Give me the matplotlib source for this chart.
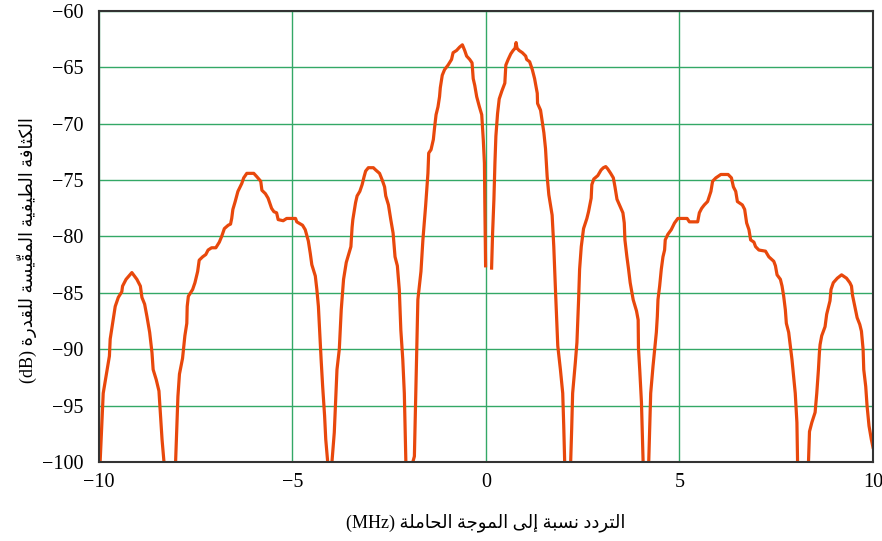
import numpy as np
import matplotlib
matplotlib.use('Agg')
import matplotlib.pyplot as plt

# --- data (MHz, dB) ---
lobe1_f = [-10.0, -9.97, -9.89, -9.73, -9.71, -9.58, -9.50, -9.41, -9.39, -9.30, -9.15, -9.02,
           -8.93, -8.89, -8.82, -8.76, -8.69, -8.63, -8.60, -8.52, -8.45, -8.41, -8.37, -8.32]
lobe1_db = [-102, -100, -93.9, -90.6, -89.1, -86.2, -85.4, -84.9, -84.4, -83.8, -83.2, -83.8,
            -84.4, -85.4, -86.0, -87.1, -88.5, -90.3, -91.8, -92.7, -93.7, -95.9, -98.0, -100]

lobe2_f = [-8.02, -7.99, -7.96, -7.92, -7.84, -7.78, -7.73, -7.72, -7.69, -7.58, -7.52, -7.45,
           -7.41, -7.32, -7.24, -7.18, -7.09, -6.98, -6.89, -6.83, -6.76, -6.66, -6.60, -6.57,
           -6.54, -6.48, -6.41, -6.31, -6.26, -6.18, -6.00, -5.92, -5.82, -5.79, -5.70, -5.63,
           -5.54, -5.48, -5.41, -5.37, -5.24, -5.15, -4.92, -4.89, -4.74, -4.67, -4.59, -4.54,
           -4.50, -4.41, -4.37, -4.33, -4.30, -4.26, -4.22, -4.17, -4.14, -4.09]
lobe2_db = [-100, -97.1, -94.2, -92.2, -90.8, -88.8, -87.7, -86.2, -85.3, -84.7, -84.1, -83.1,
            -82.1, -81.8, -81.6, -81.2, -81.0, -81.0, -80.5, -80.0, -79.3, -79.0, -78.9, -78.4,
            -77.6, -76.9, -76.0, -75.3, -74.8, -74.4, -74.4, -74.7, -75.1, -75.9, -76.2, -76.6,
            -77.5, -77.8, -77.9, -78.5, -78.6, -78.4, -78.4, -78.7, -79.0, -79.4, -80.4, -81.5,
            -82.5, -83.5, -84.7, -86.2, -88.3, -90.9, -93.3, -95.9, -98.0, -100]

lobe3_f = [-3.98, -3.92, -3.85, -3.79, -3.74, -3.68, -3.61, -3.55, -3.49, -3.46, -3.44, -3.37,
           -3.33, -3.26, -3.20, -3.15, -3.11, -3.04, -2.91, -2.85, -2.75, -2.68, -2.62, -2.59,
           -2.52, -2.46, -2.40, -2.35, -2.29, -2.24, -2.20, -2.15, -2.11, -2.09, -2.07]
lobe3_db = [-100, -97.4, -91.8, -90.0, -86.5, -83.8, -82.3, -81.6, -80.9, -79.2, -78.5, -77.0,
            -76.4, -76.0, -75.4, -74.7, -74.2, -73.9, -73.9, -74.1, -74.4, -75.0, -75.6, -76.4,
            -77.2, -78.5, -79.7, -81.8, -82.6, -84.7, -88.3, -90.9, -93.9, -96.8, -100]

main_l_f = [-1.89, -1.85, -1.82, -1.76, -1.68, -1.63, -1.56, -1.50, -1.48, -1.42, -1.36, -1.33,
            -1.29, -1.24, -1.20, -1.18, -1.13, -1.07, -0.98, -0.89, -0.85, -0.76, -0.68, -0.61,
            -0.55, -0.50, -0.42, -0.36, -0.33, -0.29, -0.24, -0.17, -0.11, -0.07, -0.04, -0.03, -0.01]
main_l_db = [-100, -99.5, -94.9, -85.6, -83.1, -80.3, -77.3, -74.4, -72.6, -72.3, -71.4, -70.4,
             -69.2, -68.5, -67.6, -66.8, -65.7, -65.2, -64.8, -64.3, -63.7, -63.5, -63.2, -63.0,
             -63.5, -64.0, -64.3, -64.6, -66.0, -66.6, -67.6, -68.5, -69.2, -71.4, -73.5, -77.0, -82.6]

main_r_f = [0.145, 0.171, 0.205, 0.231, 0.256, 0.299, 0.342, 0.410, 0.487, 0.513, 0.573, 0.641,
            0.701, 0.752, 0.778, 0.803, 0.855, 0.940, 1.026, 1.051, 1.128, 1.197, 1.256, 1.325,
            1.333, 1.410, 1.453, 1.496, 1.538, 1.581, 1.624, 1.709, 1.752, 1.795, 1.855, 1.923,
            1.983, 2.009, 2.034]
main_r_db = [-82.8, -79.7, -76.7, -73.5, -71.1, -69.1, -67.8, -67.1, -66.4, -64.8, -64.3, -63.8,
             -63.5, -63.3, -62.8, -63.3, -63.5, -63.7, -64.0, -64.3, -64.5, -65.2, -66.0, -67.3,
             -68.2, -68.8, -69.8, -70.8, -72.2, -74.7, -76.3, -78.1, -80.9, -84.7, -89.7, -91.8,
             -93.9, -96.8, -100]

lobe6_f = [2.188, 2.214, 2.239, 2.308, 2.350, 2.393, 2.419, 2.462, 2.521, 2.607, 2.650, 2.718,
           2.735, 2.786, 2.889, 2.974, 3.034, 3.094, 3.145, 3.222, 3.291, 3.333, 3.385, 3.462,
           3.538, 3.573, 3.590, 3.641, 3.684, 3.726, 3.803, 3.889, 3.932, 3.940, 3.974, 4.017, 4.060]
lobe6_db = [-100, -97.1, -93.9, -91.2, -89.4, -85.6, -82.9, -80.9, -79.3, -78.4, -77.8, -76.6,
            -75.4, -74.9, -74.6, -74.1, -73.9, -73.8, -74.0, -74.4, -74.8, -75.6, -76.7, -77.3,
            -77.9, -78.8, -80.3, -81.8, -82.9, -84.1, -85.6, -86.6, -87.4, -89.9, -91.9, -94.7, -100]

lobe7_f = [4.205, 4.256, 4.316, 4.359, 4.402, 4.427, 4.444, 4.487, 4.530, 4.573, 4.615, 4.632,
           4.701, 4.786, 4.872, 4.957, 5.197, 5.256, 5.470, 5.513, 5.573, 5.641, 5.726, 5.812,
           5.855, 5.940, 6.068, 6.256, 6.342, 6.393, 6.453, 6.496, 6.624, 6.684, 6.735, 6.795,
           6.838, 6.923, 6.966, 7.051, 7.222, 7.308, 7.436, 7.479, 7.521, 7.607, 7.650, 7.692,
           7.735, 7.761, 7.821, 7.863, 7.906, 7.949, 7.991, 8.034, 8.051]
lobe7_db = [-100, -93.9, -91.5, -90.0, -88.5, -87.1, -85.6, -84.4, -82.9, -81.8, -81.2, -80.3,
            -79.8, -79.4, -78.8, -78.4, -78.4, -78.7, -78.7, -77.9, -77.5, -77.2, -76.9, -76.0,
            -75.1, -74.8, -74.5, -74.5, -74.8, -75.6, -76.0, -76.9, -77.2, -77.6, -78.8, -79.4,
            -80.3, -80.5, -80.9, -81.2, -81.3, -81.8, -82.2, -82.6, -83.4, -83.8, -84.4, -85.3,
            -86.5, -87.7, -88.5, -89.7, -90.9, -92.4, -93.9, -96.5, -100]

lobe8_f = [8.333, 8.359, 8.419, 8.504, 8.547, 8.590, 8.615, 8.632, 8.675, 8.761, 8.803, 8.889,
           8.915, 8.974, 9.077, 9.188, 9.316, 9.402, 9.444, 9.470, 9.530, 9.590, 9.658, 9.701,
           9.744, 9.761, 9.812, 9.846, 9.897, 9.957, 10.0]
lobe8_db = [-100, -97.3, -96.5, -95.6, -93.9, -91.8, -90.3, -89.6, -88.8, -88.0, -86.9, -85.7,
            -84.7, -84.1, -83.7, -83.4, -83.7, -84.1, -84.4, -85.2, -86.2, -87.2, -87.8, -88.4,
            -90.0, -91.8, -93.3, -95.0, -96.8, -98.0, -98.7]

# nulls between lobes (below the axis floor); the DC gap is a break in the trace
null_f = [-8.17, -4.03, -1.98, 0.07, 2.11, 4.13, 8.19]
null_db = [-110, -110, -110, np.nan, -110, -110, -110]

xticks = [-10, -5, 0, 5, 10]
yticks = [-100, -95, -90, -85, -80, -75, -70, -65, -60]

xlabel_ar = 'التردد نسبة إلى الموجة الحاملة'
ylabel_ar = 'الكثافة الطيفية المقيّسة للقدرة'


# --- matplotlib has no Arabic shaping, so do it by hand ---
FORMS = {
    'ا': (0xFE8D, 0xFE8E, None, None),
    'إ': (0xFE87, 0xFE88, None, None),
    'ة': (0xFE93, 0xFE94, None, None),
    'د': (0xFEA9, 0xFEAA, None, None),
    'ر': (0xFEAD, 0xFEAE, None, None),
    'و': (0xFEED, 0xFEEE, None, None),
    'ى': (0xFEEF, 0xFEF0, None, None),
}
for ch, b in [('ب', 0xFE8F), ('ت', 0xFE95), ('ث', 0xFE99), ('ج', 0xFE9D), ('ح', 0xFEA1),
              ('س', 0xFEB1), ('ط', 0xFEC1), ('ف', 0xFED1), ('ق', 0xFED5), ('ك', 0xFED9),
              ('ل', 0xFEDD), ('م', 0xFEE1), ('ن', 0xFEE5), ('ي', 0xFEF1)]:
    FORMS[ch] = (b, b + 1, b + 2, b + 3)
MARKS = '\u0651'


def shape(text):
    c = list(text)
    clusters = []
    for i, ch in enumerate(c):
        if ch in MARKS:
            clusters[-1] += ch
            continue
        if ch not in FORMS:
            clusters.append(ch)
            continue
        j = i - 1
        while j >= 0 and c[j] in MARKS:
            j -= 1
        k = i + 1
        while k < len(c) and c[k] in MARKS:
            k += 1
        jp = j >= 0 and c[j] in FORMS and FORMS[c[j]][2] is not None
        jn = FORMS[ch][2] is not None and k < len(c) and c[k] in FORMS
        iso, fin, ini, med = FORMS[ch]
        cp = med if (jp and jn) else fin if jp else ini if jn else iso
        clusters.append(chr(cp))
    return ''.join(clusters[::-1])


lobes_f = [lobe1_f, lobe2_f, lobe3_f, main_l_f, main_r_f, lobe6_f, lobe7_f, lobe8_f]
lobes_db = [lobe1_db, lobe2_db, lobe3_db, main_l_db, main_r_db, lobe6_db, lobe7_db, lobe8_db]
f, db = [], []
for i in range(len(lobes_f)):
    f += lobes_f[i]
    db += lobes_db[i]
    if i < len(null_f):
        f.append(null_f[i])
        db.append(null_db[i])

plt.rcParams['font.family'] = ['Liberation Serif', 'DejaVu Sans']
plt.rcParams['axes.unicode_minus'] = True

fig = plt.figure(figsize=(8.82, 5.41), dpi=100)
ax = fig.add_axes([0.1122, 0.146, 0.8776, 0.8337])

ax.plot(f, db, color='#e8480c', lw=2.3, solid_joinstyle='round')

ax.set_xlim(-10, 10)
ax.set_ylim(-100, -60)
ax.set_xticks(xticks)
ax.set_yticks(yticks)
ax.grid(True, color='#33a866', lw=1.0)
ax.set_axisbelow(True)
ax.tick_params(length=0, labelsize=14.5, pad=11)
ax.tick_params(axis='x', pad=8)
for s in ax.spines.values():
    s.set_color('#333333')
    s.set_linewidth(1.5)

ax.set_xlabel('(MHz) ' + shape(xlabel_ar), fontsize=13)
ax.set_ylabel('(dB) ' + shape(ylabel_ar), fontsize=13)
ax.xaxis.set_label_coords(0.5, -0.115)
ax.yaxis.set_label_coords(-0.08, 0.47)

fig.savefig('out.png', dpi=100)
